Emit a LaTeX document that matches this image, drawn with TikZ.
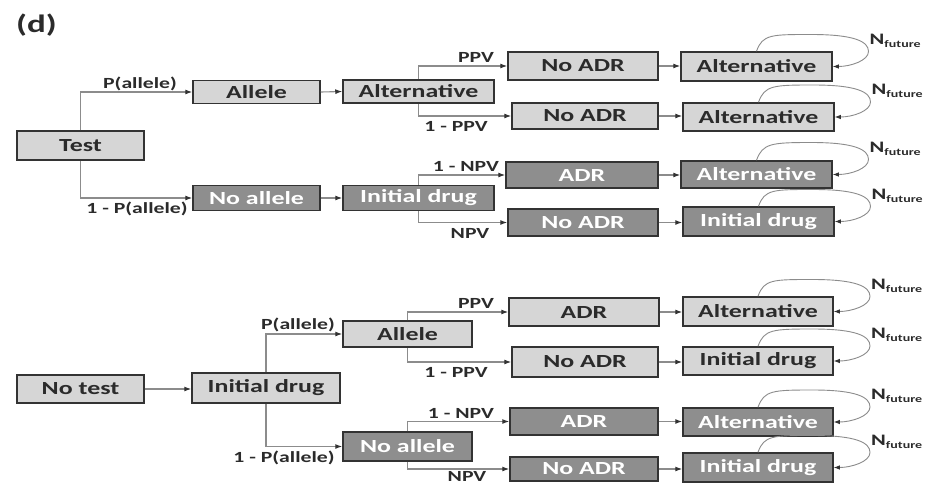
\documentclass[tikz,border=0pt]{standalone}
\usepackage{fontspec}
\setmainfont[FakeStretch=1.4]{Carlito}
\usetikzlibrary{arrows.meta,calc}
\definecolor{lightfill}{HTML}{D6D6D6}
\definecolor{darkfill}{HTML}{8E8E8E}
\definecolor{bordc}{HTML}{333333}
\definecolor{linec}{HTML}{8C8C8C}
\definecolor{txtc}{HTML}{2B2B2B}
\newcommand\futloop[1]{%
  \draw[loopln] (#1.north) .. controls ($(#1.north)+(6,-17)$) and ($(#1.center)+(15,-32)$) .. ($(#1.center)+(55,-32)$)
    .. controls ($(#1.center)+(98,-32)$) and ($(#1.center)+(112,-25)$) .. ($(#1.center)+(112,-15)$)
    .. controls ($(#1.center)+(112,-6)$) and ($(#1.east)+(18,0)$) .. (#1.east);
  \node[futlab] (#1f) at ($(#1.center)+(113,-26)$) {N{\fontsize{10}{10}\selectfont\raisebox{-3pt}{future}}};}
\begin{document}
\begin{tikzpicture}[x=1pt,y=-1pt,
  boxst/.style={draw=bordc, line width=1.5pt, inner sep=0pt, font=\bfseries\fontsize{18.5}{18.5}\selectfont, text=txtc},
  lbox/.style={boxst, fill=lightfill},
  dbox/.style={boxst, fill=darkfill, text=white},
  sz/.style 2 args={minimum width=#1pt, minimum height=#2pt},
  conn/.style={draw=linec, line width=1.1pt, -{Latex[length=7pt,width=5pt,color=bordc]}},
  loopln/.style={draw=linec, line width=0.9pt, -{Latex[length=6pt,width=4.5pt,color=bordc]}},
  lab/.style={font=\bfseries\fontsize{15.5}{15.5}\selectfont, text=txtc, inner sep=0pt},
  futlab/.style={font=\bfseries\fontsize{16}{16}\selectfont, text=txtc, inner sep=0pt, anchor=west}]
\fill[white] (0,0) rectangle (933,485);
\useasboundingbox (0,0) rectangle (933,485);

\node[font=\bfseries\fontsize{25}{25}\selectfont, text=txtc, inner sep=0pt, anchor=west] (title) at (16,25) {(d)};

% ---------- top tree ----------
\node[lbox,sz={127}{29}] (test) at (80.5,145.5) {Test};
\node[lbox,sz={127}{23}] (allele) at (256.5,92) {Allele};
\node[dbox,sz={127}{25}] (noallele) at (256.5,198) {No allele};
\node[lbox,sz={151}{23}] (alt) at (418.5,91.5) {Alternative};
\node[dbox,sz={151}{25}] (init) at (418.5,198) {Initial drug};
\node[lbox,sz={150}{28}] (tA) at (583,66) {No ADR};
\node[lbox,sz={146}{26}] (tB) at (585,116) {No ADR};
\node[dbox,sz={152}{26}] (tC) at (582,175) {ADR};
\node[dbox,sz={150}{27}] (tD) at (583,222.5) {No ADR};
\node[lbox,sz={151}{29}] (tE) at (756.5,66.5) {Alternative};
\node[lbox,sz={151}{28}] (tF) at (758.5,117) {Alternative};
\node[dbox,sz={151}{27}] (tG) at (756.5,174.5) {Alternative};
\node[dbox,sz={151}{29}] (tH) at (758.5,221.5) {Initial drug};

\draw[conn] (test.north) |- (allele.west);
\draw[conn] (test.south) |- (noallele.west);
\draw[conn] (allele.east) -- (alt.west);
\draw[conn] (noallele.east) -- (init.west);
\draw[conn] (alt.north) |- (tA.west);
\draw[conn] (alt.south) |- (tB.west);
\draw[conn] (init.north) |- (tC.west);
\draw[conn] (init.south) |- (tD.west);
\draw[conn] (tA.east) -- (tA.east -| tE.west);
\draw[conn] (tB.east) -- (tB.east -| tF.west);
\draw[conn] (tC.east) -- (tC.east -| tG.west);
\draw[conn] (tD.east) -- (tD.east -| tH.west);

\node[lab] (l1) at (140,84) {P(allele)};
\node[lab] (l2) at (137,209) {1 - P(allele)};
\node[lab] (l3) at (476,57) {PPV};
\node[lab] (l4) at (456,126) {1 - PPV};
\node[lab] (l5) at (466,166) {1 - NPV};
\node[lab] (l6) at (470,233) {NPV};

\futloop{tE}\futloop{tF}\futloop{tG}\futloop{tH}

% ---------- bottom tree ----------
\node[lbox,sz={127}{28}] (notest) at (80.5,389) {No test};
\node[lbox,sz={148}{30}] (binit) at (266,388) {Initial drug};
\node[lbox,sz={129}{26}] (ballele) at (407.5,334) {Allele};
\node[dbox,sz={129}{29}] (bnoallele) at (407.5,446.5) {No allele};
\node[lbox,sz={150}{28}] (bA) at (584,312) {ADR};
\node[lbox,sz={146}{30}] (bB) at (585,362) {No ADR};
\node[dbox,sz={148}{27}] (bC) at (584,421.5) {ADR};
\node[dbox,sz={148}{24}] (bD) at (584,469) {No ADR};
\node[lbox,sz={150}{29}] (bE) at (758,311.5) {Alternative};
\node[lbox,sz={150}{28}] (bF) at (758,361) {Initial drug};
\node[dbox,sz={150}{28}] (bG) at (758,422) {Alternative};
\node[dbox,sz={150}{29}] (bH) at (758,467.5) {Initial drug};

\draw[conn] (notest.east) -- (notest.east -| binit.west);
\draw[conn] (binit.north) |- (ballele.west);
\draw[conn] (binit.south) |- (bnoallele.west);
\draw[conn] (ballele.north) |- (bA.west);
\draw[conn] (ballele.south) |- (bB.west);
\draw[conn] (bnoallele.north) |- (bC.west);
\draw[conn] (bnoallele.south) |- (bD.west);
\draw[conn] (bA.east) -- (bA.east -| bE.west);
\draw[conn] (bB.east) -- (bB.east -| bF.west);
\draw[conn] (bC.east) -- (bC.east -| bG.west);
\draw[conn] (bD.east) -- (bD.east -| bH.west);

\node[lab] (m1) at (298,325) {P(allele)};
\node[lab] (m2) at (284,458) {1 - P(allele)};
\node[lab] (m3) at (476,303) {PPV};
\node[lab] (m4) at (456,372) {1 - PPV};
\node[lab] (m5) at (461,413) {1 - NPV};
\node[lab] (m6) at (467,476.5) {NPV};

\futloop{bE}\futloop{bF}\futloop{bG}\futloop{bH}
\end{tikzpicture}
\end{document}
